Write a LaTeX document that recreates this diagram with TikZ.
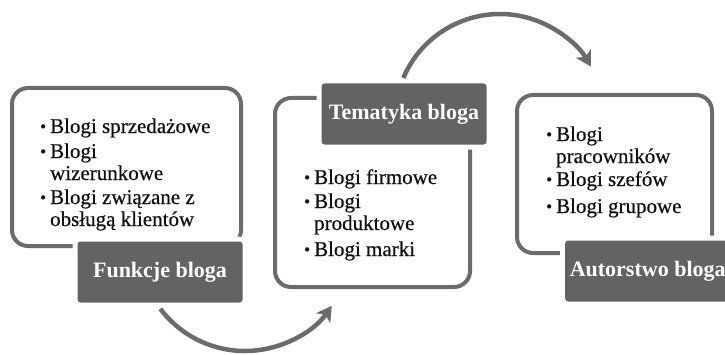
\documentclass[tikz,border=0pt]{standalone}
\usepackage{fontspec}
\setmainfont{Liberation Serif}
\newfontfamily\bodyfont{Liberation Serif}[FakeBold=0.5]
\usetikzlibrary{arrows.meta}
\definecolor{lineg}{HTML}{6B6B6B}
\definecolor{labg}{HTML}{636363}
\definecolor{txt}{HTML}{101010}
\newcommand{\blt}{\raisebox{1pt}{\fontsize{17}{17}\selectfont\textbullet}}
\begin{document}
\begin{tikzpicture}[x=1pt,y=1pt,
  frame/.style={draw=lineg, line width=4pt, rounded corners=16pt},
  lbl/.style={preaction={draw=white, line width=10pt}, fill=labg, rounded corners=3pt,
    text=white, font=\bfseries\fontsize{22}{23}\selectfont, minimum width=165pt,
    minimum height=61pt, inner sep=0pt},
  items/.style={anchor=base west, inner sep=0pt, text=txt, font=\bodyfont\fontsize{21}{22}\selectfont},
  arc/.style={draw=lineg, line width=4.5pt, -{Stealth[length=15pt, width=17pt, inset=4pt]}}]
\useasboundingbox (0,0) rectangle (725,354);
\clip (0,0) rectangle (725,354);
% frames
\draw[frame] (12,266) rectangle (241,108);
\draw[frame] (275,256) rectangle (470,67);
\draw[frame] (517,259) rectangle (712,101);
% labels
\node[lbl] (f1) at (160,82) {Funkcje bloga};
\node[lbl] (f2) at (404,240) {Tematyka bloga};
\node[lbl, anchor=west] (f3) at (565,83) {Autorstwo bloga};
% lists
\def\lst#1{\begin{tabular}[t]{@{}l@{\hspace{4pt}}l@{}}#1\end{tabular}}
\node[items] (a1) at (40,221) {\lst{\blt & Blogi sprzedażowe}};
\node[items] (a2) at (40,196) {\lst{\blt & Blogi\\ & wizerunkowe}};
\node[items] (a3) at (40,150) {\lst{\blt & Blogi związane z\\ & obsługą klientów}};
\node[items] (b1) at (304,170) {\lst{\blt & Blogi firmowe}};
\node[items] (b2) at (304,146) {\lst{\blt & Blogi\\ & produktowe}};
\node[items] (b3) at (304,98) {\lst{\blt & Blogi marki}};
\node[items] (c1) at (546,213) {\lst{\blt & Blogi\\ & pracowników}};
\node[items] (c2) at (546,168) {\lst{\blt & Blogi szefów}};
\node[items] (c3) at (546,141) {\lst{\blt & Blogi grupowe}};
% arcs
\coordinate (s1) at (160.3,45.2);
\coordinate (s2) at (403.3,276);
\draw[arc] (s1) arc[start angle=217, end angle=325, radius=106];
\draw[arc] (s2) arc[start angle=157, end angle=30, radius=105];
\end{tikzpicture}
\end{document}
